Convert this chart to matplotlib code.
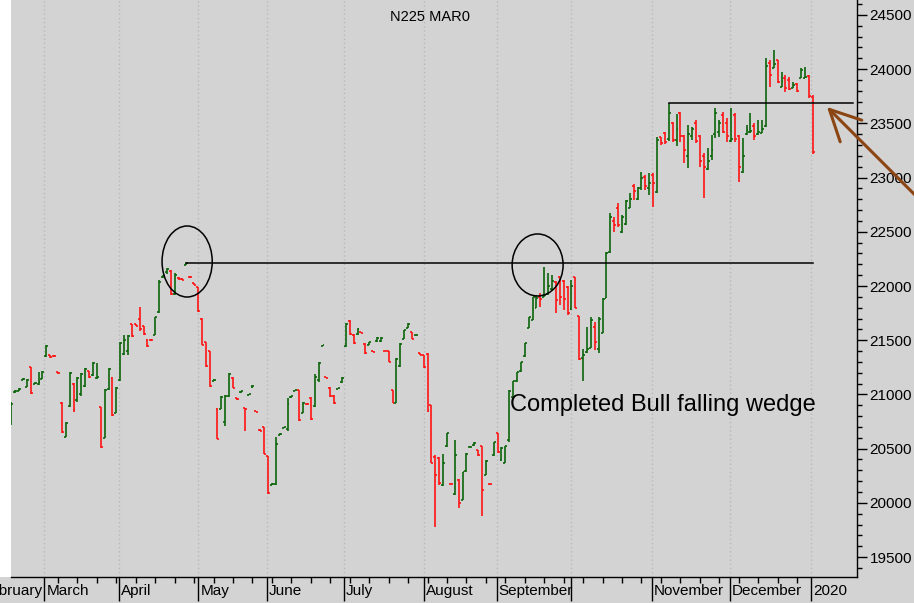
import numpy as np
import matplotlib
matplotlib.use("Agg")
import matplotlib.pyplot as plt
from matplotlib.collections import LineCollection
from matplotlib.patches import Ellipse, Rectangle
from matplotlib.ticker import MultipleLocator

plt.rcParams['font.family'] = ['Liberation Sans', 'DejaVu Sans']

# daily OHLC bars, N225 futures
opens = [20750, 21020, 21035, 21135, 21070, 21250, 21100, 21095, 21145, 21350,
         21360, 21358, 21205, 20925, 20610, 20890, 21100, 20950, 21000, 21080,
         21215, 21180, 21150, 20880, 20600, 21050, 21150, 20830, 21130, 21370,
         21400, 21650, 21645, 21700, 21630, 21505, 21505, 21550, 21760, 22080,
         22130, 22140, 21930, 22075, 22068, 22195, 22085, 22030, 21990, 21700,
         21480, 21400, 21125, 20870, 20870, 20750, 20990, 21150, 20965, 21020,
         20872, 20998, 21065, 20845, 20675, 20700, 20430, 20165, 20170, 20630,
         20690, 20680, 20975, 21035, 21040, 20830, 20915, 20970, 20890, 21130,
         21450, 21158, 21060, 20990, 21050, 21110, 21450, 21680, 21550, 21555,
         21572, 21465, 21460, 21398, 21490, 21495, 21402, 21400, 21040, 20920,
         21260, 21510, 21615, 21575, 21545, 21383, 21360, 21375, 20900, 20420,
         20415, 20160, 20520, 20176, 20080, 20215, 20030, 20290, 20515, 20530,
         20485, 20520, 20260, 20173, 20440, 20640, 20392, 20370, 20580, 20980,
         21125, 21215, 21350, 21615, 21690, 21800, 21900, 21900, 21925, 21970,
         22040, 22080, 22050, 21990, 21790, 22080, 21720, 21340, 21390, 21430,
         21620, 21420, 21570, 21890, 22310, 22600, 22720, 22500, 22570, 22720,
         22920, 22800, 22900, 23010, 22900, 23020, 22870, 23370, 23410, 23360,
         23500, 23350, 23600, 23380, 23200, 23380, 23500, 23380, 23200, 23080,
         23200, 23400, 23420, 23580, 23500, 23340, 23580, 23380, 23050, 23400,
         23420, 23480, 23400, 23410, 23480, 24060, 24010, 24080, 23840, 23920,
         23900, 23830, 23860, 23920, 23920, 23940, 23740]
highs = [20930, 21040, 21055, 21150, 21142, 21253, 21110, 21207, 21216, 21456,
         21362, 21360, 21210, 20930, 20745, 21207, 21105, 21160, 21195, 21240,
         21218, 21296, 21287, 20884, 21050, 21240, 21158, 21071, 21480, 21548,
         21548, 21650, 21650, 21803, 21634, 21508, 21510, 21717, 22055, 22101,
         22163, 22148, 22117, 22080, 22072, 22215, 22090, 22032, 21994, 21702,
         21483, 21403, 21140, 20872, 20985, 20995, 21195, 21158, 20970, 21030,
         20875, 21008, 21087, 20848, 20680, 20703, 20432, 20180, 20604, 20640,
         20700, 20964, 20985, 21045, 21041, 20927, 20918, 20973, 21188, 21296,
         21460, 21160, 21065, 20995, 21058, 21158, 21656, 21686, 21554, 21610,
         21575, 21471, 21487, 21400, 21527, 21530, 21405, 21402, 21041, 21333,
         21471, 21594, 21656, 21579, 21552, 21385, 21363, 21379, 20903, 20440,
         20420, 20451, 20641, 20180, 20580, 20217, 20288, 20457, 20522, 20558,
         20488, 20524, 20395, 20175, 20564, 20647, 20518, 20524, 21041, 21127,
         21210, 21302, 21477, 21717, 21902, 21917, 21932, 22172, 22117, 22102,
         22049, 22086, 22055, 22000, 22055, 22086, 21723, 21416, 21625, 21717,
         21671, 21717, 21886, 22317, 22670, 22640, 22763, 22655, 22793, 22855,
         22938, 22916, 23055, 23024, 23039, 23039, 23377, 23377, 23423, 23685,
         23516, 23586, 23608, 23393, 23485, 23470, 23531, 23393, 23223, 23270,
         23393, 23639, 23531, 23608, 23546, 23639, 23592, 23393, 23362, 23485,
         23592, 23500, 23531, 23531, 24100, 24084, 24177, 24084, 23977, 23946,
         23931, 23885, 23869, 24008, 24023, 23946, 23762]
lows = [20720, 21010, 21030, 21130, 21068, 21004, 21095, 21087, 21142, 21345,
        21340, 21348, 21190, 20644, 20607, 20884, 20838, 20930, 20990, 21070,
        21155, 21173, 21142, 20506, 20598, 21041, 20804, 20825, 21124, 21363,
        21363, 21533, 21630, 21585, 21548, 21440, 21495, 21548, 21748, 22070,
        22110, 21917, 21917, 22060, 22055, 22190, 22075, 22005, 21763, 21455,
        21256, 21071, 21120, 20586, 20865, 20709, 20980, 21056, 20950, 21015,
        20663, 20995, 21060, 20835, 20660, 20447, 20081, 20160, 20164, 20625,
        20688, 20666, 20970, 21030, 20758, 20826, 20905, 20764, 20887, 21118,
        21448, 21150, 20979, 20912, 21048, 21102, 21440, 21548, 21465, 21548,
        21565, 21373, 21456, 21390, 21487, 21487, 21397, 21296, 20918, 20918,
        21256, 21508, 21610, 21508, 21543, 21363, 21247, 20841, 20365, 19780,
        20165, 20155, 20518, 20170, 20072, 19949, 20026, 20288, 20512, 20524,
        20435, 19879, 20257, 20168, 20435, 20463, 20389, 20365, 20564, 20973,
        21118, 21210, 21348, 21610, 21686, 21794, 21810, 21896, 21917, 21963,
        21754, 21825, 21779, 21733, 21779, 21794, 21318, 21127, 21379, 21425,
        21410, 21379, 21564, 21886, 22301, 22501, 22547, 22492, 22563, 22716,
        22793, 22793, 22886, 22885, 22839, 22731, 22855, 23300, 23310, 23340,
        23331, 23291, 23331, 23131, 23085, 23347, 23316, 23100, 22808, 23070,
        23162, 23362, 23377, 23408, 23331, 23331, 23331, 22962, 23039, 23393,
        23408, 23347, 23393, 23408, 23470, 23838, 24008, 23869, 23838, 23792,
        23808, 23823, 23792, 23915, 23915, 23731, 23220]
closes = [20915, 21030, 21050, 21142, 21135, 21010, 21105, 21110, 21210, 21450,
          21345, 21350, 21195, 20650, 20740, 21200, 20860, 21150, 21185, 21230,
          21160, 21290, 21160, 20515, 21040, 21230, 20810, 21060, 21470, 21500,
          21540, 21540, 21635, 21600, 21555, 21445, 21500, 21710, 22040, 22095,
          22155, 21925, 22100, 22065, 22058, 22210, 22080, 22010, 21770, 21460,
          21265, 21080, 21135, 20590, 20980, 20990, 21190, 21060, 20955, 21028,
          20865, 21004, 21080, 20838, 20665, 20450, 20090, 20175, 20540, 20635,
          20696, 20910, 20982, 21041, 20765, 20920, 20910, 20770, 21160, 21290,
          21456, 21153, 20985, 20918, 21056, 21150, 21650, 21560, 21470, 21600,
          21568, 21380, 21482, 21395, 21520, 21525, 21400, 21300, 20925, 21325,
          21465, 21590, 21650, 21515, 21548, 21365, 21250, 20850, 20370, 20260,
          20180, 20370, 20640, 20172, 20440, 20000, 20280, 20450, 20518, 20552,
          20440, 20118, 20390, 20170, 20560, 20470, 20510, 20520, 21030, 21120,
          21205, 21295, 21470, 21710, 21895, 21890, 21880, 21920, 22000, 22050,
          21870, 21900, 21880, 21750, 22000, 21800, 21330, 21360, 21420, 21690,
          21480, 21700, 21880, 22300, 22640, 22560, 22560, 22640, 22780, 22800,
          22880, 22905, 23000, 22920, 22950, 22950, 23350, 23320, 23330, 23600,
          23350, 23450, 23380, 23250, 23400, 23450, 23340, 23150, 23100, 23150,
          23250, 23600, 23500, 23420, 23380, 23360, 23360, 23100, 23200, 23440,
          23430, 23380, 23420, 23450, 24030, 23950, 24050, 23880, 23890, 23830,
          23820, 23850, 23800, 23990, 23930, 23750, 23240]

# month boundaries (bar index) and their labels
month_edges = [8.5, 27.75, 48.1, 65.75, 85.5, 106, 124.75, 144, 164.75, 184.75, 205.7]
month_names = ["March", "April", "May", "June", "July", "August", "September", "",
               "November", "December", "2020"]
first_month = "February"

# resistance lines and circled tops
line1 = (45, 206, 22215)
line2 = (169, 216.4, 23685)
circles = [(45.2, 22226, 12.9, 655), (135.3, 22194, 13.1, 572)]

title = "N225 MAR0"
note = "Completed Bull falling wedge"

W, H = 914, 603
bg = '#d3d3d3'
green = '#0b650b'
red = '#ff1414'

fig = plt.figure(figsize=(W / 100, H / 100), dpi=100, facecolor=bg)
ax = fig.add_axes([11 / W, 26 / H, 846 / W, 577 / H])
ax.set_facecolor(bg)
fig.patches.append(Rectangle((0, 26 / H), 11 / W, 577 / H, transform=fig.transFigure,
                             facecolor='white', edgecolor='none', zorder=-1))

n = len(opens)
segs, cols = [], []
for i in range(n):
    c = green if closes[i] >= opens[i] else red
    segs.append([(i, lows[i]), (i, highs[i])])
    segs.append([(i - 0.5, opens[i]), (i, opens[i])])
    segs.append([(i, closes[i]), (i + 0.5, closes[i])])
    cols += [c] * 3
ax.add_collection(LineCollection(segs, colors=cols, linewidths=1.2, zorder=3))

for m in month_edges:
    ax.axvline(m, color='#b8b8b8', linewidth=1, linestyle=(0, (1, 2)), zorder=1)

ax.plot([line1[0], line1[1]], [line1[2], line1[2]], color='black', linewidth=1.1, zorder=4)
ax.plot([line2[0], line2[1]], [line2[2], line2[2]], color='black', linewidth=1.1, zorder=4)
for cx, cy, w, h in circles:
    ax.add_patch(Ellipse((cx, cy), w, h, fill=False, edgecolor='black', linewidth=1.1, zorder=4))

ax.text(128.3, 20905, note, fontsize=17, va='center', ha='left', zorder=5)
ax.text(0.495, 0.97, title, transform=ax.transAxes, fontsize=10.5, ha='center', va='center')

ax.annotate('', xy=(825, H - 105), xycoords='figure pixels',
            xytext=(925, H - 205), textcoords='figure pixels',
            arrowprops=dict(arrowstyle='->, head_length=1.1, head_width=0.55',
                            color='#8b4513', linewidth=2.2, mutation_scale=20),
            annotation_clip=False)

ax.set_xlim(-0.08, 217.4)
ax.set_ylim(19316, 24638)

ax.yaxis.tick_right()
ax.yaxis.set_major_locator(MultipleLocator(500))
ax.yaxis.set_minor_locator(MultipleLocator(100))
ax.tick_params(axis='y', which='major', length=7, width=1, pad=2, labelsize=11)
ax.tick_params(axis='y', which='minor', length=3.6, width=1)

ax.set_xticks(month_edges)
ax.set_xticklabels([])
ax.set_xticks(np.arange(12, 207, 5), minor=True)
ax.tick_params(axis='x', which='major', length=17, width=1)
ax.tick_params(axis='x', which='minor', length=4.5, width=1)
for m, name in zip(month_edges, month_names):
    ax.text(m + 0.5, -0.012, name, transform=ax.get_xaxis_transform(),
            fontsize=11, ha='left', va='top')
ax.text(month_edges[0] - 0.5, -0.012, first_month, transform=ax.get_xaxis_transform(),
        fontsize=11, ha='right', va='top')

for s in ['left', 'top']:
    ax.spines[s].set_visible(False)
ax.spines['right'].set_linewidth(1)
ax.spines['bottom'].set_linewidth(1)

fig.savefig('out.png', dpi=100, facecolor=bg)
